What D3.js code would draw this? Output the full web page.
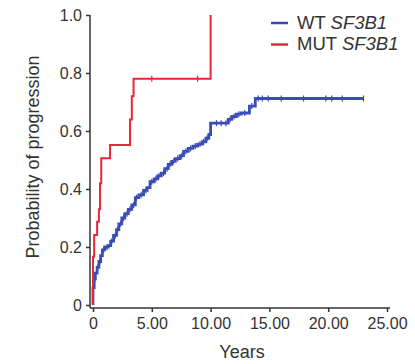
<!DOCTYPE html>
<html><head><meta charset="utf-8">
<script src="https://cdn.jsdelivr.net/npm/d3@7/dist/d3.min.js"></script>
<style>body{margin:0;background:#fff}svg{display:block}text{font-family:"Liberation Sans",Arial,sans-serif;fill:#333}</style>
</head><body><svg id="c" width="415" height="364"></svg>
<script>
const seriesNames = ["WT", "MUT"];
// Kaplan–Meier style cumulative progression: event times (years) and cumulative probability
const wtTimes = [0, 0.0, 0.1, 0.2, 0.35, 0.5, 0.65, 0.8, 1.0, 1.3, 1.5, 1.75, 2.0, 2.2, 2.45, 2.7, 3.0, 3.3, 3.6, 3.9, 4.3, 4.6, 4.85, 5.2, 5.5, 5.8, 6.1, 6.4, 6.7, 7.0, 7.4, 7.7, 8.1, 8.5, 8.9, 9.3, 9.6, 9.85, 10.0, 11.5, 11.8, 12.2, 12.6, 13.3, 13.8, 23.0];
const wtValues = [0, 0.06, 0.09, 0.11, 0.13, 0.15, 0.17, 0.19, 0.2, 0.205, 0.22, 0.24, 0.26, 0.28, 0.3, 0.315, 0.33, 0.345, 0.37, 0.38, 0.395, 0.405, 0.425, 0.435, 0.445, 0.455, 0.47, 0.485, 0.495, 0.505, 0.515, 0.53, 0.54, 0.548, 0.555, 0.563, 0.575, 0.588, 0.627, 0.64, 0.65, 0.658, 0.662, 0.686, 0.712, 0.712];
const wtCensored = [0.15, 0.4, 0.6, 0.9, 1.2, 1.6, 1.9, 2.1, 2.35, 2.6, 2.9, 3.15, 3.45, 3.7, 4.1, 4.5, 5.0, 5.35, 5.6, 6.0, 6.3, 6.55, 6.85, 7.2, 7.55, 7.9, 8.3, 8.7, 9.1, 9.4, 9.7, 10.5, 10.9, 11.3, 11.65, 12.0, 12.4, 12.9, 13.5, 14.05, 14.4, 14.9, 16.0, 17.9, 19.8, 20.3, 21.2, 23.0];
const mutTimes = [0, 0.0, 0.1, 0.35, 0.5, 0.6, 0.7, 1.45, 3.15, 3.3, 3.45, 10.0, 10.0];
const mutValues = [0, 0.166, 0.241, 0.287, 0.33, 0.42, 0.506, 0.552, 0.64, 0.72, 0.78, 1.0, 1.0];
const mutCensored = [5.0, 8.9];
const xTicks = [0, 5, 10, 15, 20, 25];
const xTickLabels = ["0", "5.00", "10.00", "15.00", "20.00", "25.00"];
const yTicks = [0, 0.2, 0.4, 0.6, 0.8, 1.0];
const yTickLabels = ["0", "0.2", "0.4", "0.6", "0.8", "1.0"];
const colors = {WT: "#3a4db5", MUT: "#e5283a"};

const svg = d3.select("#c");
const x = d3.scaleLinear().domain([0, 25]).range([93, 387]);
const y = d3.scaleLinear().domain([0, 1]).range([305, 15]);

// axes
const yAxis = d3.axisLeft(y).tickValues(yTicks).tickFormat((d, i) => yTickLabels[i]).tickSize(4).tickPadding(4);
const gy = svg.append("g").attr("transform", "translate(90,0)").call(yAxis);
gy.select(".domain").attr("d", `M0,${y(1)}V308`);
const xAxis = d3.axisBottom(x).tickValues(xTicks).tickFormat((d, i) => xTickLabels[i]).tickSize(4).tickPadding(6);
const gx = svg.append("g").attr("transform", "translate(0,308)").call(xAxis);
gx.select(".domain").attr("d", "M90,0H390");
[gx, gy].forEach(g => {
  g.selectAll(".domain").attr("stroke", "#333").attr("stroke-width", 1.5);
  g.selectAll(".tick line").attr("stroke", "#333").attr("stroke-width", 1.5);
  g.selectAll(".tick text").attr("font-size", 16).attr("fill", "#333").attr("font-family", "Liberation Sans, Arial, sans-serif");
});

svg.append("text").attr("transform", "translate(39,157) rotate(-90)").attr("text-anchor", "middle")
  .attr("font-size", 18).text("Probability of progression");
svg.append("text").attr("x", 242).attr("y", 358).attr("text-anchor", "middle").attr("font-size", 18).text("Years");

const line = d3.line().x(d => x(d[0])).y(d => y(d[1])).curve(d3.curveStepAfter);
function stepAt(times, vals, t) { let v = vals[0]; for (let i = 0; i < times.length; i++) if (times[i] <= t) v = vals[i]; return v; }

function drawSeries(times, vals, cens, color, w) {
  const pts = times.map((t, i) => [t, vals[i]]);
  svg.append("path").attr("d", line(pts)).attr("fill", "none").attr("stroke", color).attr("stroke-width", w);
  svg.append("g").selectAll("line").data(cens).join("line")
    .attr("x1", d => x(d)).attr("x2", d => x(d))
    .attr("y1", d => y(stepAt(times, vals, d)) - 3).attr("y2", d => y(stepAt(times, vals, d)) + 3)
    .attr("stroke", color).attr("stroke-width", 1.2);
}
drawSeries(wtTimes, wtValues, wtCensored, colors.WT, 2.8);
drawSeries(mutTimes, mutValues, mutCensored, colors.MUT, 2);

// legend
const leg = [{k: "WT", pre: "WT ", y: 23}, {k: "MUT", pre: "MUT ", y: 44.5}];
leg.forEach(l => {
  svg.append("line").attr("x1", 271).attr("x2", 288).attr("y1", l.y).attr("y2", l.y).attr("stroke", colors[l.k]).attr("stroke-width", 2.5);
  const t = svg.append("text").attr("x", 297).attr("y", l.y + 5.8).attr("font-size", 18.5);
  t.append("tspan").text(l.pre);
  t.append("tspan").attr("font-style", "italic").text("SF3B1");
});
</script></body></html>
